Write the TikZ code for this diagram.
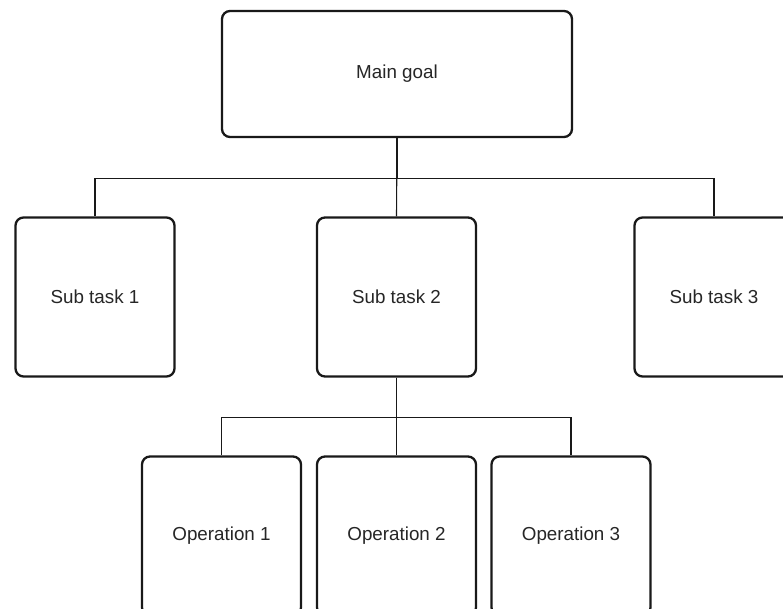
\documentclass[tikz,border=0pt]{standalone}
\usepackage{fontspec}
\setmainfont{Liberation Sans}
\begin{document}
\begin{tikzpicture}[x=1pt,y=-1pt,
  box/.style={draw=black!90, line width=2.3pt, rounded corners=8pt, fill=white,
    text=black!85, font=\fontsize{18.8}{22}\selectfont, inner sep=0pt},
  goalbox/.style={box, minimum width=350pt, minimum height=126pt},
  taskbox/.style={box, minimum width=159pt, minimum height=159pt},
  link/.style={draw=black!90, line width=1.1pt}]
  % page frame
  \clip (0,0) rectangle (783,609);
  \fill[white] (0,0) rectangle (783,609);

  % nodes
  \node[goalbox] (main) at (397,74) {Main goal};
  \node[taskbox] (s1) at (95,297) {Sub task 1};
  \node[taskbox] (s2) at (396.5,297) {Sub task 2};
  \node[taskbox] (s3) at (714,297) {Sub task 3};
  \node[taskbox] (o1) at (221.5,536) {Operation 1};
  \node[taskbox] (o2) at (396.5,536) {Operation 2};
  \node[taskbox] (o3) at (571,536) {Operation 3};

  % tree connectors
  \draw[link] (main.south) -- ++(0,40) -| (s1.north);
  \draw[link] (main.south) -- (s2.north);
  \draw[link] (main.south) -- ++(0,40) -| (s3.north);
  \draw[link] (s2.south) -- ++(0,40) -| (o1.north);
  \draw[link] (s2.south) -- (o2.north);
  \draw[link] (s2.south) -- ++(0,40) -| (o3.north);
\end{tikzpicture}
\end{document}
